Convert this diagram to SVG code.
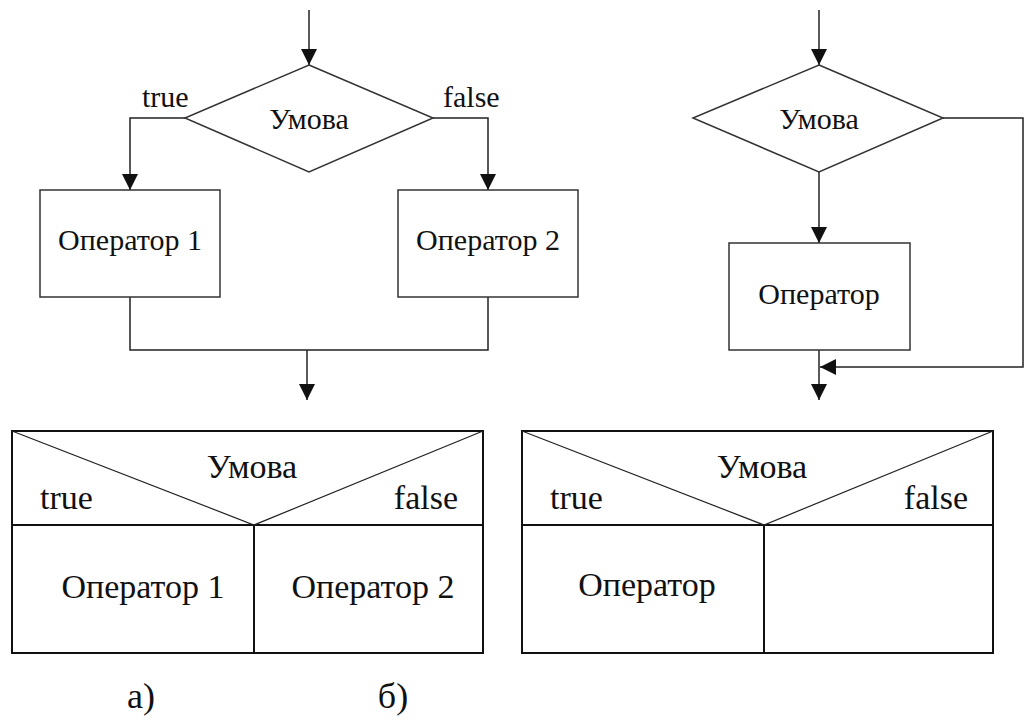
<svg xmlns="http://www.w3.org/2000/svg" width="1026" height="722" viewBox="0 0 1026 722">
<style>
.s{fill:none;stroke:#222;stroke-width:1.5}
.b{fill:#fff;stroke:#333;stroke-width:1.5}
.n{fill:none;stroke:#111;stroke-width:2}
.d{fill:none;stroke:#222;stroke-width:1.2}
text{font-family:"Liberation Serif","Times New Roman",serif;fill:#111}
.t{font-size:30px}
.u{font-size:34px}
.l{font-size:36px}
</style>
<defs>
<marker id="ah" viewBox="0 0 10 10" refX="10" refY="5" markerWidth="16" markerHeight="16" markerUnits="userSpaceOnUse" orient="auto">
<path d="M0,0 L10,5 L0,10 Z" fill="#111"/>
</marker>
</defs>
<g id="connectors">
<path class="s" d="M309,10 V65" marker-end="url(#ah)"/>
<path class="s" d="M185,118 H130 V190" marker-end="url(#ah)"/>
<path class="s" d="M433,118 H488 V190" marker-end="url(#ah)"/>
<path class="s" d="M130,297 V350 H488 V297"/>
<path class="s" d="M307,350 V400" marker-end="url(#ah)"/>
<path class="s" d="M819,10 V65" marker-end="url(#ah)"/>
<path class="s" d="M819,172 V243" marker-end="url(#ah)"/>
<path class="s" d="M819,350 V400" marker-end="url(#ah)"/>
<path class="s" d="M943,118 H1023 V367 H820" marker-end="url(#ah)"/>
</g>
<g id="cond-a">
<polygon class="b" points="309,65 433,118 309,172 185,118"/>
<text class="t" x="309" y="129" text-anchor="middle">Умова</text>
</g>
<text id="label-true-a" class="t" x="142" y="107">true</text>
<text id="label-false-a" class="t" x="443" y="107">false</text>
<g id="op1-a">
<rect class="b" x="40" y="190" width="180" height="107"/>
<text class="t" x="130" y="250" text-anchor="middle">Оператор 1</text>
</g>
<g id="op2-a">
<rect class="b" x="398" y="190" width="180" height="107"/>
<text class="t" x="488" y="250" text-anchor="middle">Оператор 2</text>
</g>
<g id="cond-b">
<polygon class="b" points="819,65 943,118 819,172 693,118"/>
<text class="t" x="819" y="129" text-anchor="middle">Умова</text>
</g>
<g id="op-b">
<rect class="b" x="729" y="243" width="181" height="107"/>
<text class="t" x="819" y="304" text-anchor="middle">Оператор</text>
</g>
<g id="ns-a">
<rect class="n" x="12" y="431" width="471" height="222"/>
<path class="n" d="M12,525 H483 M254,525 V653"/>
<path class="d" d="M12,431 L254,525 L483,431"/>
<text class="u" x="252" y="478" text-anchor="middle">Умова</text>
<text class="u" x="40" y="509">true</text>
<text class="u" x="458" y="509" text-anchor="end">false</text>
<text class="u" x="143" y="598" text-anchor="middle">Оператор 1</text>
<text class="u" x="373" y="598" text-anchor="middle">Оператор 2</text>
</g>
<g id="ns-b">
<rect class="n" x="522" y="431" width="471" height="222"/>
<path class="n" d="M522,525 H993 M764,525 V653"/>
<path class="d" d="M522,431 L764,525 L993,431"/>
<text class="u" x="762" y="478" text-anchor="middle">Умова</text>
<text class="u" x="550" y="509">true</text>
<text class="u" x="968" y="509" text-anchor="end">false</text>
<text class="u" x="647" y="596" text-anchor="middle">Оператор</text>
</g>
<text id="cap-a" class="l" x="141" y="708" text-anchor="middle">а)</text>
<text id="cap-b" class="l" x="393" y="708" text-anchor="middle">б)</text>
</svg>
